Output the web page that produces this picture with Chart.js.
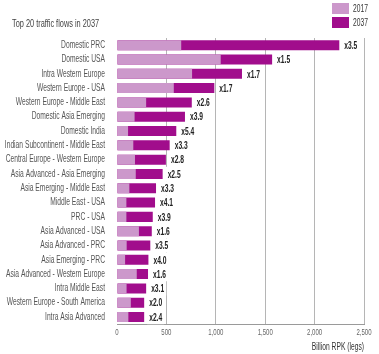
<!DOCTYPE html>
<html>
<head>
<meta charset="utf-8">
<script src="https://cdn.jsdelivr.net/npm/chart.js@4.4.1/dist/chart.umd.min.js"></script>
<style>
  html, body { margin: 0; padding: 0; background: #fff; }
  #wrap { width: 379px; height: 354px; position: relative; }
</style>
</head>
<body>
<div id="wrap"><canvas id="grafico"></canvas></div>
<script>
const flujos = [
  'Domestic PRC', 'Domestic USA', 'Intra Western Europe', 'Western Europe - USA',
  'Western Europe - Middle East', 'Domestic Asia Emerging', 'Domestic India',
  'Indian Subcontinent - Middle East', 'Central Europe - Western Europe',
  'Asia Advanced - Asia Emerging', 'Asia Emerging - Middle East', 'Middle East - USA',
  'PRC - USA', 'Asia Advanced - USA', 'Asia Advanced - PRC', 'Asia Emerging - PRC',
  'Asia Advanced - Western Europe', 'Intra Middle East', 'Western Europe - South America',
  'Intra Asia Advanced'
];
const rpk2017 = [650, 1050, 760, 575, 295, 178, 112, 165, 182, 190, 125, 95, 95, 222, 98, 82, 200, 97, 140, 115];
const rpk2037 = [2250, 1570, 1265, 985, 757, 688, 600, 533, 495, 462, 395, 385, 362, 352, 337, 318, 314, 295, 275, 275];
const multiplicadores = ['x3.5', 'x1.5', 'x1.7', 'x1.7', 'x2.6', 'x3.9', 'x5.4', 'x3.3', 'x2.8', 'x2.5',
  'x3.3', 'x4.1', 'x3.9', 'x1.6', 'x3.5', 'x4.0', 'x1.6', 'x3.1', 'x2.0', 'x2.4'];
const ticksX = [0, 500, 1000, 1500, 2000, 2500];
const tituloGrafico = 'Top 20 traffic flows in 2037';

const fuente = "'Liberation Sans', Arial, sans-serif";
const colorClaro = '#cc98cb';
const colorOscuro = '#a10d8c';
const estrechar = 0.67;

const canvas = document.getElementById('grafico');

// el original usa una letra condensada que no tenemos: se estrecha el texto a lo ancho
const ctx2d = canvas.getContext('2d');
const fillTextOriginal = ctx2d.fillText.bind(ctx2d);
ctx2d.fillText = function (texto, x, y) {
  this.save();
  this.translate(x, y);
  this.scale(estrechar, 1);
  fillTextOriginal(texto, 0, 0);
  this.restore();
};

// etiquetas x3.5 al final de cada barra 2037, con fondo blanco que tapa la rejilla
const pluginMultiplicadores = {
  id: 'multiplicadores',
  afterDatasetsDraw: (chart) => {
    const { ctx } = chart;
    const meta = chart.getDatasetMeta(1);
    const alto = chart.scales.y.height / flujos.length;
    ctx.save();
    ctx.font = 'bold 10px ' + fuente;
    ctx.textBaseline = 'middle';
    meta.data.forEach((barra, i) => {
      const ancho = ctx.measureText(multiplicadores[i]).width * estrechar;
      ctx.fillStyle = '#fff';
      ctx.fillRect(barra.x + 3, barra.y - alto / 2, ancho + 4, alto);
      ctx.fillStyle = '#222';
      ctx.fillText(multiplicadores[i], barra.x + 5, barra.y + 1);
    });
    ctx.restore();
  }
};

// titulo a la izquierda y leyenda arriba a la derecha, una debajo de otra
const pluginCabecera = {
  id: 'cabecera',
  afterDraw: (chart) => {
    const { ctx } = chart;
    ctx.save();
    ctx.textBaseline = 'middle';
    ctx.font = '11px ' + fuente;
    ctx.fillStyle = '#444';
    ctx.fillText(tituloGrafico, 12, 24);
    ctx.font = '10px ' + fuente;
    chart.data.datasets.forEach((ds, i) => {
      const y = 3 + i * 14;
      ctx.fillStyle = ds.backgroundColor;
      ctx.fillRect(332, y, 17, 11);
      ctx.fillStyle = '#333';
      ctx.fillText(ds.label, 353, y + 6);
    });
    ctx.restore();
  }
};

new Chart(canvas, {
  type: 'bar',
  data: {
    labels: flujos,
    datasets: [
      { label: '2017', data: rpk2017, backgroundColor: colorClaro, grouped: false, categoryPercentage: 1, barPercentage: 0.7 },
      { label: '2037', data: rpk2037, backgroundColor: colorOscuro, grouped: false, categoryPercentage: 1, barPercentage: 0.7 }
    ]
  },
  options: {
    indexAxis: 'y',
    responsive: true,
    maintainAspectRatio: false,
    animation: false,
    layout: { padding: { left: 0, right: 15, top: 38, bottom: 1 } },
    scales: {
      x: {
        min: 0,
        max: 2500,
        afterBuildTicks: (scale) => { scale.ticks = ticksX.map(v => ({ value: v })); },
        grid: {
          color: (c) => c.tick && c.tick.value === 0 ? 'rgba(0,0,0,0)' : '#b5b5b5',
          drawTicks: false
        },
        border: { color: '#9a9a9a' },
        ticks: {
          padding: 3,
          color: '#666',
          font: { family: fuente, size: 9 },
          callback: (v) => v.toLocaleString('en-US')
        },
        title: {
          display: true,
          text: 'Billion RPK (legs)',
          align: 'end',
          color: '#333',
          font: { family: fuente, size: 10 },
          padding: { top: 0, bottom: 0 }
        }
      },
      y: {
        afterFit: (scale) => { scale.width = 117; },
        grid: { display: false },
        border: { display: false },
        ticks: {
          padding: 4,
          color: '#555',
          autoSkip: false,
          font: { family: fuente, size: 10 }
        }
      }
    },
    plugins: {
      legend: { display: false },
      tooltip: { enabled: false },
      title: { display: false }
    }
  },
  plugins: [pluginMultiplicadores, pluginCabecera]
});
</script>
</body>
</html>
